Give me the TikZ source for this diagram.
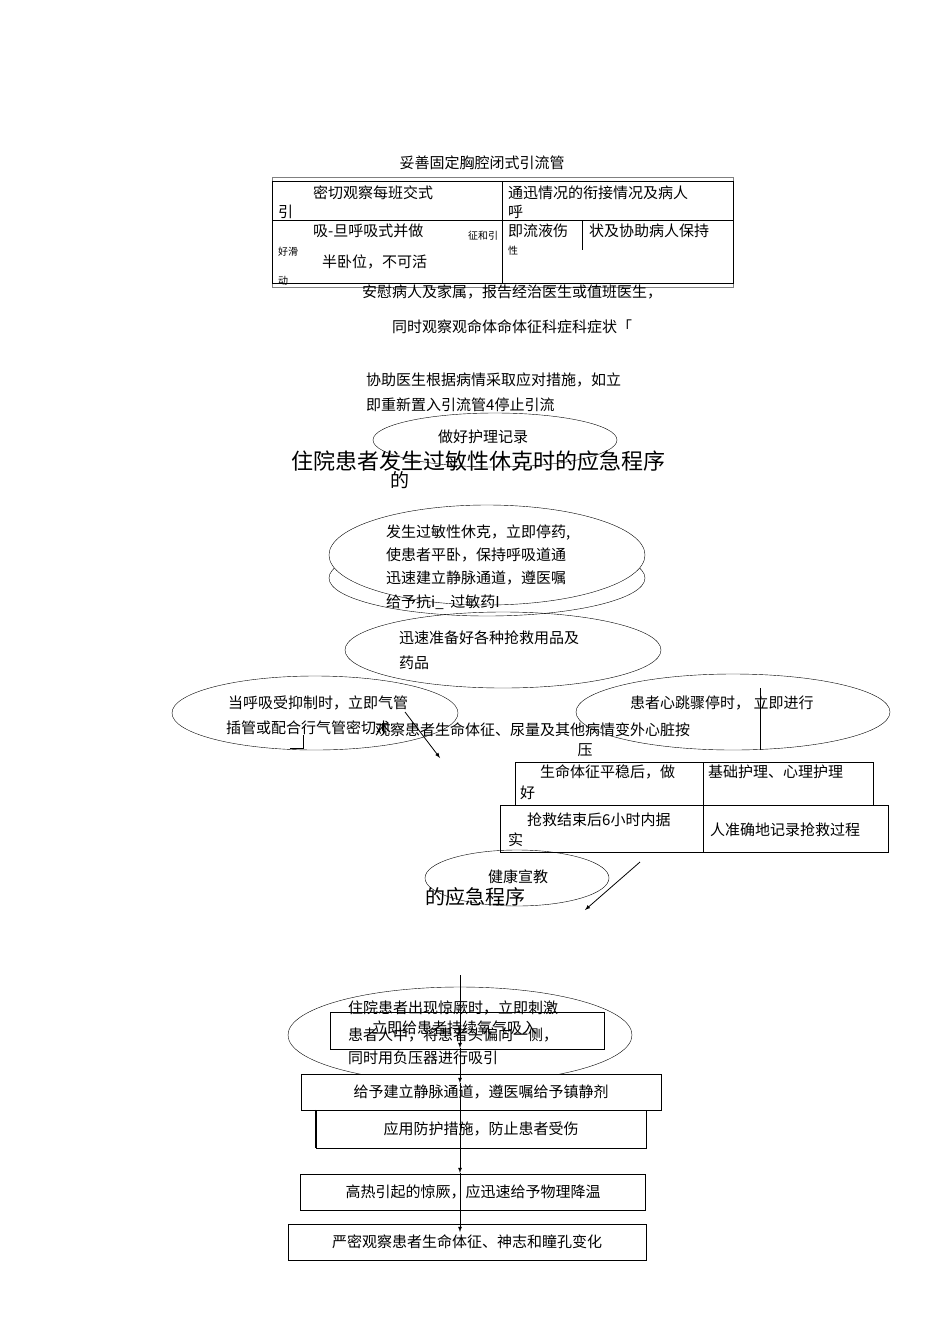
\documentclass[tikz,border=0pt]{standalone}
\usepackage{fontspec}
\setmainfont{Noto Sans CJK SC}
\begin{document}
\begin{tikzpicture}[x=1pt,y=-1pt,
 t/.style={inner sep=0pt,font=\fontsize{15}{17}\selectfont},
 tl/.style={t,anchor=west},
 sm/.style={inner sep=0pt,font=\fontsize{10}{11}\selectfont,anchor=west},
 box/.style={draw,thin},
 ar/.style={-latex,thick}]
\useasboundingbox (0,0) rectangle (950,1344);
% top section
\node[t] (n1) at (482,163) {妥善固定胸腔闭式引流管};
\draw[gray] (272,177) rectangle (733,287);
\draw (272,181) rectangle (733,283);
\draw (502,181) -- (502,283);
\draw (272,220) -- (733,220);
\draw (582,220) -- (582,250);
\node[tl] (a1) at (313,193) {密切观察每班交式};
\node[tl] (a2) at (278,212) {引};
\node[tl] (a3) at (313,231) {吸-旦呼吸式并做};
\node[sm] (a4) at (278,252) {好滑};
\node[tl] (a5) at (322,262) {半卧位，不可活};
\node[sm] (a6) at (278,281) {动};
\node[sm] (a7) at (468,236) {征和引};
\node[tl] (b1) at (508,193) {通迅情况的衔接情况及病人};
\node[tl] (b2) at (508,212) {呼};
\node[tl] (b3) at (508,231) {即流液伤};
\node[sm] (b4) at (508,251) {性};
\node[tl] (b5) at (589,231) {状及协助病人保持};
\node[t] (c1) at (512,292) {安慰病人及家属，报告经治医生或值班医生，};
\node[t] (c2) at (512,327) {同时观察观命体命体征科症科症状「};
\node[tl] (c3) at (366,380) {协助医生根据病情采取应对措施，如立};
\node[tl] (c4) at (366,405) {即重新置入引流管4停止引流};
% record ellipse
\draw (495,440) ellipse[x radius=122,y radius=27];
\node[t] (r1) at (483,437) {做好护理记录};
\node[inner sep=0pt,font=\fontsize{22}{24}\selectfont] (title) at (478,461) {住院患者发生过敏性休克时的应急程序};
\node[inner sep=0pt,font=\fontsize{19}{21}\selectfont] (de) at (400,480) {的};
% allergy ellipses
\draw (487,578) ellipse[x radius=158,y radius=38];
\draw[fill=white] (487,555) ellipse[x radius=158,y radius=50];
\node[tl] (e1) at (386,533) {发生过敏性休克，立即停药,};
\node[tl] (e2) at (386,555) {使患者平卧，保持呼吸道通};
\node[tl] (e3) at (386,578) {迅速建立静脉通道，遵医嘱};
\node[tl] (e4) at (386,602) {给予抗i\_\ \ 过敏药I};
\draw (503,650) ellipse[x radius=158,y radius=38];
\node[tl] (f1) at (399,638) {迅速准备好各种抢救用品及};
\node[tl] (f2) at (399,663) {药品};
\draw (315,713) ellipse[x radius=143,y radius=37];
\node[tl] (g1) at (228,703) {当呼吸受抑制时，立即气管};
\node[tl] (g2) at (226,728) {插管或配合行气管密切术};
\draw (303,735) -- (303,748) -- (290,748);
\draw (733,712) ellipse[x radius=157,y radius=38];
\node[tl] (h1) at (630,703) {患者心跳骤停时，\ 立即进行};
\draw (760,688) -- (760,750);
\node[tl] (o1) at (375,730) {观察患者生命体征、尿量及其他病情变外心脏按};
\node[t] (o2) at (585,750) {压};
\coordinate (s1) at (405,712);
\coordinate (s2) at (440,758);
\draw[ar] (s1) -- (s2);
% lower table
\draw[fill=white] (515,762) rectangle (873,805);
\draw (703,762) -- (703,852);
\draw (500,805) rectangle (888,852);
\node[tl] (k1) at (540,772) {生命体征平稳后，做};
\node[tl] (k2) at (520,793) {好};
\node[tl] (k3) at (708,772) {基础护理、心理护理};
\node[tl] (k4) at (527,820) {抢救结束后6小时内据};
\node[tl] (k5) at (508,840) {实};
\node[tl] (k6) at (710,830) {人准确地记录抢救过程};
\draw (517,878) ellipse[x radius=92,y radius=28];
\node[t] (j1) at (518,877) {健康宣教};
\coordinate (l1) at (640,862);
\coordinate (l2) at (585,910);
\draw[ar] (l1) -- (l2);
\node[inner sep=0pt,font=\fontsize{20}{22}\selectfont] (de2) at (475,897) {的应急程序};
% convulsion
\draw (460,1035) ellipse[x radius=172,y radius=48];
\draw[thick] (330,1012) rectangle (604,1049);
\node[tl] (m1) at (348,1008) {住院患者出现惊厥时，立即刺激};
\node[tl] (m2) at (348,1035) {患者人中，将患者头偏向一侧，};
\node[tl] (m3) at (372,1028) {立即给患者持续氧气吸入};
\node[tl] (m4) at (348,1058) {同时用负压器进行吸引};
\node[box,minimum width=360,minimum height=36,t,fill=white] (p1) at (481,1092) {给予建立静脉通道，遵医嘱给予镇静剂};
\node[box,minimum width=330,minimum height=38,t] (p2) at (481,1129) {应用防护措施，防止患者受伤};
\draw[very thick] (p2.north west) -- (p2.south west);
\node[box,minimum width=345,minimum height=36,t] (p3) at (473,1192) {高热引起的惊厥，应迅速给予物理降温};
\node[box,minimum width=358,minimum height=36,t] (p4) at (467,1242) {严密观察患者生命体征、神志和瞳孔变化};
\coordinate (v0) at (460,975);
\coordinate (v1) at (460,1048);
\coordinate (v2) at (460,1083);
\coordinate (v3) at (460,1173);
\coordinate (v4) at (460,1232);
\draw[ar] (v0) -- (v1);
\draw[ar] (v1) -- (v2);
\draw[ar] (v2) -- (v3);
\draw[ar] (v3) -- (v4);
\end{tikzpicture}
\end{document}
